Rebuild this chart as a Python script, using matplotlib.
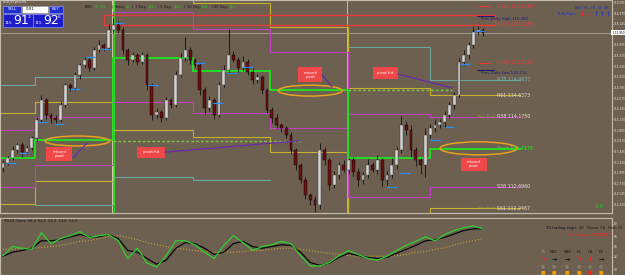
"""
EURJPY H1 chart with daily fib pivots, annotations and TDI sub-window
"""
import numpy as np
import matplotlib
matplotlib.use("Agg")
import matplotlib.pyplot as plt
from matplotlib.patches import Rectangle, Ellipse

# ============================================================================
# DATA
# ============================================================================

# candles (H1), opens follow previous close
FIRST_OPEN = 113.10
CLOSES = [113.20, 113.31, 113.47, 113.58, 113.43, 113.52, 113.73, 114.11, 114.53, 114.22,
          114.15, 114.11, 114.43, 114.85, 114.79, 115.06, 115.27, 115.38, 115.21, 115.59,
          115.69, 115.63, 116.01, 116.12, 116.01, 115.59, 115.38, 115.48, 115.34, 115.48,
          114.85, 114.22, 114.28, 114.15, 114.53, 114.43, 115.06, 115.42, 115.59, 115.38,
          115.27, 114.74, 114.36, 114.53, 114.22, 114.85, 115.17, 115.48, 115.38, 115.21,
          115.34, 115.12, 114.96, 115.02, 114.74, 114.32, 114.15, 114.00, 113.94, 113.79,
          113.47, 113.16, 112.84, 112.52, 112.42, 112.31, 113.47, 113.26, 112.74, 112.95,
          113.16, 113.05, 113.26, 113.01, 112.84, 112.95, 113.16, 113.05, 113.26, 112.84,
          112.95, 113.16, 113.47, 114.00, 113.90, 113.47, 113.26, 113.16, 113.79, 113.94,
          114.00, 114.07, 114.22, 114.43, 114.64, 115.34, 115.48, 115.69, 115.97, 116.01,
          115.95]
# wick lengths in 0.01 yen
UP_WICK = [6, 4, 8, 5, 6, 4, 5, 6, 10, 5,
           4, 6, 8, 5, 4, 6, 5, 8, 4, 6,
           10, 5, 12, 15, 8, 6, 5, 7, 4, 6,
           5, 4, 8, 5, 6, 4, 8, 10, 27, 6,
           5, 4, 6, 8, 5, 6, 10, 55, 8, 6,
           12, 5, 8, 6, 4, 5, 6, 8, 5, 4,
           6, 5, 4, 6, 5, 8, 15, 6, 5, 8,
           6, 10, 5, 6, 8, 5, 12, 6, 10, 5,
           8, 15, 6, 20, 8, 10, 6, 5, 15, 8,
           12, 6, 8, 5, 6, 8, 10, 6, 12, 8,
           5]
DN_WICK = [8, 5, 4, 6, 10, 5, 4, 6, 5, 8,
           10, 6, 5, 4, 6, 5, 8, 4, 6, 5,
           4, 6, 5, 4, 6, 8, 10, 5, 6, 4,
           10, 12, 6, 8, 5, 6, 4, 5, 6, 8,
           5, 10, 12, 6, 8, 5, 4, 6, 5, 8,
           6, 5, 10, 6, 8, 6, 10, 5, 8, 6,
           8, 10, 6, 8, 10, 15, 8, 10, 12, 6,
           8, 5, 6, 10, 12, 8, 6, 5, 8, 12,
           10, 6, 8, 5, 10, 15, 12, 20, 25, 6,
           8, 5, 10, 6, 8, 5, 6, 8, 5, 4,
           6]

# short blue swing marks (candle index, price)
BLUE_X = [0.8, 3.5, 7.3, 10.8, 14.0, 17.1, 20.6, 23.3, 30.2, 40.0,
          43.8, 46.7, 50.0, 80.0, 82.7, 89.0, 92.0, 95.2, 98.3]
BLUE_P = [113.20, 113.41, 114.07, 114.02, 114.76, 115.44, 115.61, 116.16, 114.85, 115.31,
          114.47, 115.10, 115.23, 112.69, 112.99, 113.69, 113.96, 115.29, 115.99]

# pivot segments (candle index edges) and the level of each segment
DAY_EDGES = [-0.625, 6.67, 22.92, 39.58, 55.63, 71.875, 88.96, 107.7]
PIVOT = [113.31, 113.69, 115.42, 115.15, 114.74, 113.31, 113.497]
R38_LINE = [113.90, 114.17, 116.39, 116.03, 115.55, 114.24, 114.175]
S38_LINE = [112.69, 113.16, 114.49, 114.26, 113.94, 112.48, 112.696]
R61_LINE = [114.26, 114.49, 116.75, 116.58, 116.08, 114.79, 114.637]
S61_LINE = [112.33, 112.82, 113.90, 113.75, 113.43, 112.00, 112.247]
R78_LINE = [114.85, 115.02, np.nan, np.nan, np.nan, 115.65, 114.964]
S78_LINE = [np.nan, 112.31, 112.90, 112.84, np.nan, np.nan, np.nan]

# missed pivots carried forward
MISSED_START = [22.92, 71.875]
MISSED_END = [62.0, 93.5]
MISSED_PRICE = [113.665, 114.743]

# level labels at the right
LEVEL_NAMES = ['R161', 'R138', 'R100', 'R78', 'R61', 'R38', 'Pivot', 'S38', 'S61']
LEVEL_PRICES = [116.5180, 116.1187, 115.3186, 114.9637, 114.6373, 114.1750, 113.4970,
                112.6960, 112.2467]
PREV_HIGH = 116.282
PREV_LOW = 115.112

# header
ADR_NAMES = ['ADR:', 'Today:', '1 Day:', '5 Day:', '10 Day:', '20 Day:']
ADR_VALUES = ['21.3%', '37', '116', '120', '108', '112']
BID, ASK = '91', '92'

# TDI sub-window
TDI_X = np.arange(0, 101, 2)
TDI_GREEN = [34, 50, 47, 45, 74, 55, 64, 69, 76, 66, 69, 71, 60, 29, 47, 21, 14, 34, 60, 60,
             53, 40, 29, 52, 69, 57, 43, 50, 53, 59, 55, 34, 16, 16, 22, 34, 43, 36, 29, 26,
             33, 43, 52, 59, 67, 60, 71, 78, 83, 86, 81]
TDI_BLACK = [33, 40, 43, 47, 60, 60, 62, 67, 71, 67, 67, 71, 64, 43, 40, 29, 19, 26, 47, 57,
             55, 47, 36, 40, 55, 59, 50, 47, 50, 53, 52, 40, 22, 17, 21, 31, 38, 34, 31, 29,
             31, 38, 45, 52, 60, 62, 66, 72, 78, 81, 81]
TDI_BASE = [45, 45, 47, 47, 48, 50, 52, 55, 59, 60, 64, 67, 69, 66, 62, 57, 53, 50, 47, 45,
            43, 41, 40, 40, 40, 41, 43, 43, 45, 47, 47, 45, 43, 40, 38, 36, 34, 33, 33, 33,
            33, 34, 36, 40, 41, 45, 48, 53, 57, 60, 64]
TF_NAMES = ['M5', 'M15', 'M30', 'H1', 'H4', 'D1']
TF_ARROWS = ['\u2198', '\u2192', '\u2192', '\u2198', '\u2193', '\u2192']
TF_ARROW_COLORS = ['#ff2020', '#101010', '#101010', '#ff2020', '#ff2020', '#101010']
TF_SQUARE_COLORS = ['#f0a000', '#f0a000', '#f0a000', '#f0a000', '#ff2020', '#f0a000']

# ============================================================================
# FIGURE
# ============================================================================
BG = '#6d6051'
FRAME = '#c4bcac'
W, H = 625.0, 275.0

fig = plt.figure(figsize=(6.25, 2.75), dpi=100, facecolor=BG)
ax = fig.add_axes([0, 62 / H, 612 / W, 213 / H], facecolor=BG)
ax2 = fig.add_axes([0, 0, 612 / W, 57 / H], facecolor=BG)
ov = fig.add_axes([0, 0, 1, 1])
ov.set_xlim(0, W)
ov.set_ylim(H, 0)
ov.axis('off')
ov.patch.set_alpha(0)

XLIM = (-0.625, 126.875)
ax.set_xlim(*XLIM)
ax.set_ylim(112.143, 116.646)

# ----------------------------------------------------------------------------
# pivot step lines
# ----------------------------------------------------------------------------
def step_line(levels, color, lw=0.8, ls='-', z=2):
    xs, ys = [], []
    for k, lv in enumerate(levels):
        xs += [DAY_EDGES[k], DAY_EDGES[k + 1]]
        ys += [lv, lv]
    ax.plot(xs, ys, color=color, lw=lw, ls=ls, zorder=z)

# day separators
ax.axvline(22.7, color='#d8d0a8', lw=0.7, zorder=1)
ax.axvline(71.6, color='#b8c0a0', lw=0.7, zorder=1)
ax.axvline(23.1, color='#22dd22', lw=0.9, zorder=1)
ax.vlines(DAY_EDGES[5], 112.143, PIVOT[4], color='#22dd22', lw=1.0, zorder=1)

step_line(S78_LINE, '#6aa6a0')
step_line(R78_LINE, '#6aa6a0')
step_line(R61_LINE, '#c8b030')
step_line(S61_LINE, '#c8b030')
step_line(R38_LINE, '#c040c0')
step_line(S38_LINE, '#c040c0')
step_line(PIVOT, '#22dd22', lw=1.4, z=2.5)

for xs, xe, p in zip(MISSED_START, MISSED_END, MISSED_PRICE):
    ax.hlines(p, xs, xe, color='#7cc83a', lw=1.0, ls=(0, (2, 1.5)), zorder=2)

# current price line
last = CLOSES[-1]
ax.axhline(last, color='#a8a49a', lw=0.6, zorder=1)

# red box round previous high zone
ax.add_patch(Rectangle((21.0, 116.12), 81.5, 0.21, fill=False, edgecolor='#e83838',
                       lw=1.0, zorder=2))

# ----------------------------------------------------------------------------
# candles
# ----------------------------------------------------------------------------
opens = [FIRST_OPEN] + CLOSES[:-1]
for i, (o, c) in enumerate(zip(opens, CLOSES)):
    hi = max(o, c) + UP_WICK[i] * 0.01
    lo = min(o, c) - DN_WICK[i] * 0.01
    ax.vlines(i, lo, hi, color='#101010', lw=0.6, zorder=3)
    up = c >= o
    ax.bar(i, max(abs(c - o), 0.008), bottom=min(o, c), width=0.6,
           color='#d4d4d4' if up else '#6a1010', edgecolor='#303030' if up else '#000000',
           linewidth=0.3, zorder=3.5)

for bx, bp in zip(BLUE_X, BLUE_P):
    ax.hlines(bp, bx, bx + 2.0, color='#2a8cff', lw=0.9, zorder=4)

# ----------------------------------------------------------------------------
# annotations
# ----------------------------------------------------------------------------
NOTES = [(9.0, 14.4, 113.24, 113.54, 'missed\npivot'),
         (27.9, 33.75, 113.31, 113.54, 'pivot hit'),
         (61.5, 66.5, 114.91, 115.23, 'missed\npivot'),
         (77.1, 82.3, 114.98, 115.23, 'pivot hit'),
         (95.4, 100.8, 113.03, 113.31, 'missed\npivot')]
for x0, x1, p0, p1, txt in NOTES:
    ax.add_patch(Rectangle((x0, p0), x1 - x0, p1 - p0, facecolor='#f04848',
                           edgecolor='none', zorder=5))
    ax.text((x0 + x1) / 2, (p0 + p1) / 2, txt, color='white', fontsize=2.8,
            ha='center', va='center', linespacing=1.0, zorder=6)

for cx, cp, ew, eh in [(15.5, 113.665, 13.5, 0.21), (64.0, 114.73, 13.3, 0.23),
                       (99.06, 113.51, 16.0, 0.275)]:
    ax.add_patch(Ellipse((cx, cp), ew, eh, fill=False, edgecolor='#e8a020', lw=1.1, zorder=5))

for (xa, pa), (xb, pb) in [((14.6, 113.31), (17.5, 113.62)), ((33.75, 113.43), (61.9, 113.67)),
                           ((66.5, 115.06), (68.5, 114.81)), ((82.3, 115.08), (93.5, 114.79))]:
    ax.plot([xa, xb], [pa, pb], color='#6a2aa8', lw=0.9, zorder=5)

# level labels
LEVEL_COLORS = ['#ff3030', '#ff3030', '#ff3030', '#78b4ac', '#e8e0d0', '#e8e0d0',
                '#30e030', '#e8e0d0', '#e8e0d0']
for name, p, col in zip(LEVEL_NAMES, LEVEL_PRICES, LEVEL_COLORS):
    if col == '#ff3030':
        ax.hlines(p, 99.0, 101.5, color=col, lw=0.7, zorder=2)
    ax.text(103.0, p, f'{name} {p:.4f}', color=col, fontsize=3.4, va='center',
            ha='left', zorder=6)
for p in (LEVEL_PRICES[5], LEVEL_PRICES[8]):
    ax.text(99.0, p, 'Prev Pivot', color='#a8a040', fontsize=2.6, va='center', zorder=6)
ax.hlines(PREV_HIGH + 0.03, 98.8, 102.2, color='#1a1a70', lw=0.8, zorder=6)
ax.text(99.5, PREV_HIGH - 0.04, f'Prev Daily High {PREV_HIGH:.3f}', color='#1a1a70',
        fontsize=2.8, va='center', zorder=6)
ax.hlines(PREV_LOW + 0.05, 98.8, 102.2, color='#1a1a70', lw=0.8, zorder=6)
ax.text(99.5, PREV_LOW, f'Prev Daily Low {PREV_LOW:.3f}', color='#1a1a70',
        fontsize=2.8, va='center', zorder=6)

# price axis (the tick under the current-price box is left out)
ticks = np.round(112.32 + 0.225 * np.arange(20), 3)
ticks = [t for t in ticks if abs(t - last) > 0.1]
ax.yaxis.tick_right()
ax.set_yticks(ticks)
ax.yaxis.set_major_formatter(matplotlib.ticker.FormatStrFormatter('%.3f'))
ax.tick_params(axis='y', labelsize=2.1, colors='#e8e4da', length=1.0, width=0.4, pad=0.4)
ax.set_xticks([])
ax.text(1.0, last, f' {last:.3f}', transform=ax.get_yaxis_transform(), fontsize=2.1,
        color='black', va='center', ha='left', zorder=7,
        bbox=dict(facecolor='white', edgecolor='none', pad=0.4))
for s in ax.spines.values():
    s.set_color(FRAME)
    s.set_linewidth(0.8)

# ----------------------------------------------------------------------------
# TDI window
# ----------------------------------------------------------------------------
ax2.set_xlim(*XLIM)
ax2.set_ylim(0, 100)
ax2.plot(TDI_X, TDI_BASE, color='#c8a830', lw=0.8, ls=':')
ax2.plot(TDI_X, TDI_BLACK, color='#080808', lw=0.9)
ax2.plot(TDI_X, TDI_GREEN, color='#30d030', lw=0.9)
ax2.yaxis.tick_right()
ax2.set_yticks([90, 68, 50, 32, 10])
ax2.tick_params(axis='y', labelsize=2.1, colors='#e8e4da', length=1.0, width=0.4, pad=0.4)
ax2.set_xticks([])
for s in ax2.spines.values():
    s.set_color(FRAME)
    s.set_linewidth(0.8)

# ----------------------------------------------------------------------------
# overlay: trade panel, header texts, TDI table
# ----------------------------------------------------------------------------
ov.text(3, 2.5, 'EURJPYpro,H1', color='#e0e0e0', fontsize=2.6, va='center')
ov.add_patch(Rectangle((3, 6), 18, 7, facecolor='#2030d0', edgecolor='#a0a8ff', lw=0.4))
ov.text(12, 9.5, 'SELL', color='white', fontsize=2.8, ha='center', va='center')
ov.add_patch(Rectangle((22, 6), 26, 7, facecolor='white', edgecolor='#909090', lw=0.4))
ov.text(30, 9.5, '0.01', color='black', fontsize=2.8, ha='center', va='center')
ov.add_patch(Rectangle((49, 6), 14, 7, facecolor='#2030d0', edgecolor='#a0a8ff', lw=0.4))
ov.text(56, 9.5, 'BUY', color='white', fontsize=2.8, ha='center', va='center')
for bx, big, sup in [(3, BID, '3'), (33, ASK, '6')]:
    ov.add_patch(Rectangle((bx, 14), 29.5, 13, facecolor='#1c1cc8', edgecolor='#8890ff', lw=0.5))
    ov.text(bx + 2, 23, '115', color='white', fontsize=3.0, va='center')
    ov.text(bx + 10.5, 20.5, big, color='white', fontsize=9, va='center')
    ov.text(bx + 25, 16.5, sup, color='white', fontsize=3.2, va='center')

name_x = [85, 114, 135, 160, 187, 214]
value_x = [95, 126, 148, 174, 201, 229]
for k, (nm, vl) in enumerate(zip(ADR_NAMES, ADR_VALUES)):
    ov.text(name_x[k], 7, nm, color='#1a1a1a', fontsize=2.6, va='center')
    ov.text(value_x[k], 7, vl, color='#22d022', fontsize=2.6, va='center')
    if k < len(ADR_NAMES) - 1:
        ov.text(name_x[k + 1] - 3, 7, '|', color='#1a1a1a', fontsize=2.6, va='center')

for tf, x in zip(['M15', 'H1', 'H4', 'D1', 'W1'], [575, 584, 591, 598, 604]):
    ov.text(x, 8, tf, color='#2030c0', fontsize=2.6, va='center')
ov.text(558, 14, 'EURJPYpro', color='#2030c0', fontsize=2.6, va='center')
for x, col, ch in zip([580, 587, 594, 600, 606],
                      ['#ff2020', '#ff2020', '#2030d0', '#2030d0', '#2030d0'],
                      ['\u2193', '\u2193', '\u2191', '\u2191', '\u2191']):
    ov.text(x, 14, ch, color=col, fontsize=4, va='center', fontweight='bold')
ov.text(595, 207, '0.0', color='#30c030', fontsize=4.2, va='center')

ov.text(3, 221.5, 'TDI-RT-Clone  66.4  64.1  59.2  51.8  53.3', color='#101010',
        fontsize=2.6, va='center')
ov.text(545, 228, 'TDI trading angle: 30   Green: 58   Red: 31', color='#101010',
        fontsize=2.6, va='center')
ov.text(568, 234, 'TDI Crossed DOWN [8 8]', color='#ff2020', fontsize=2.6, va='center')
for k, tf in enumerate(TF_NAMES):
    x = [543, 554, 567, 579, 590, 601][k]
    ov.text(x, 252, tf, color='#909090' if k == 0 else '#101010', fontsize=2.6,
            ha='center', va='center')
    ov.text(x, 259, TF_ARROWS[k], color=TF_ARROW_COLORS[k], fontsize=4.5,
            ha='center', va='center', fontweight='bold')
    ov.text(x, 266, '\u25cf', color='#857a6c', fontsize=3.5, ha='center', va='center')
    ov.text(x, 272, '\u25a0', color=TF_SQUARE_COLORS[k], fontsize=3.5, ha='center', va='center')

fig.savefig('out.png', dpi=100, facecolor=BG)
